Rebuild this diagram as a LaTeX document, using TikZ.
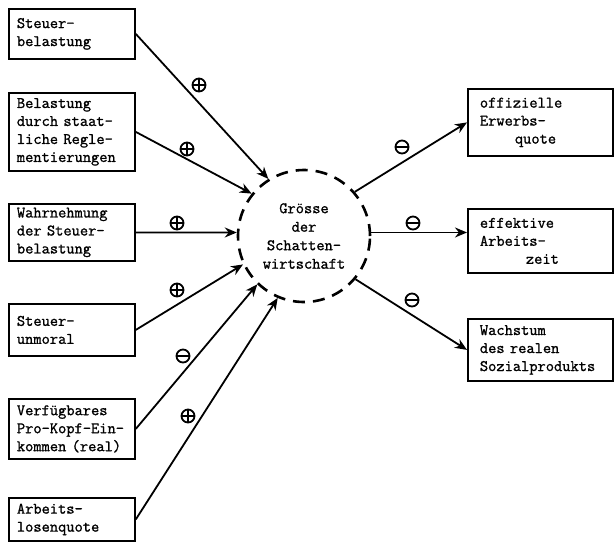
\documentclass[tikz,border=0pt]{standalone}
\usepackage{fontspec}
\newfontfamily\schreib{Latin Modern Mono}[FakeBold=1.2]
\usetikzlibrary{arrows.meta}

\tikzset{
  faktor/.style={draw, line width=1.8pt, anchor=north west, text width=110pt,
    inner xsep=8pt, inner ysep=0pt, align=left, font=\schreib\fontsize{16}{18}\selectfont},
  wirkung/.style={faktor, text width=121pt, inner xsep=12pt},
  schatten/.style={circle, draw, line width=2.6pt, dash pattern=on 12pt off 8pt,
    minimum size=132pt, inner sep=0pt, align=center, font=\schreib\fontsize{16}{18.5}\selectfont},
  pfeil/.style={line width=1.8pt, -{Stealth[length=12pt,width=10pt]}},
  vz/.style={circle, draw, line width=1.8pt, minimum size=13pt, inner sep=0pt},
  vzplus/.style={vz, path picture={
    \draw[line width=1.8pt] (path picture bounding box.west) -- (path picture bounding box.east)
      (path picture bounding box.north) -- (path picture bounding box.south);}},
  vzminus/.style={vz, path picture={
    \draw[line width=1.8pt] (path picture bounding box.west) -- (path picture bounding box.east);}}
}

\begin{document}
\begin{tikzpicture}[x=1pt, y=-1pt]
\useasboundingbox (0,0) rectangle (614,542);

% Einflussgroessen
\node[faktor, minimum height=50pt] (steuer) at (8,8) {Steuer-\\belastung};
\node[faktor, minimum height=78pt] (regel) at (8,92) {Belastung\\durch staat-\\liche Regle-\\mentierungen};
\node[faktor, minimum height=57pt] (wahr) at (8,203) {Wahrnehmung\\der Steuer-\\belastung};
\node[faktor, minimum height=52pt] (moral) at (8,303) {Steuer-\\unmoral};
\node[faktor, minimum height=60pt] (eink) at (8,398) {Verfügbares\\Pro-Kopf-Ein-\\kommen (real)};
\node[faktor, minimum height=43pt] (alq) at (8,497) {Arbeits-\\losenquote};

% Schattenwirtschaft
\node[schatten] (schw) at (304,236) {Grösse\\der\\Schatten-\\wirtschaft};

% Auswirkungen
\node[wirkung, minimum height=67pt] (erwerb) at (467,88) {offizielle\\Erwerbs-\\\hspace*{35pt}quote};
\node[wirkung, minimum height=64pt] (zeit) at (467,208) {effektive\\Arbeits-\\\hspace*{46pt}zeit};
\node[wirkung, minimum height=62pt] (wachs) at (467,318) {Wachstum\\des realen\\Sozialprodukts};

% Pfeile
\draw[pfeil] (steuer.east) -- (schw.122);
\draw[pfeil] (regel.east) -- (schw.141);
\draw[pfeil] (wahr.east) -- (schw.177);
\draw[pfeil] (moral.east) -- (schw.205);
\draw[pfeil] (eink.east) -- (schw.226);
\draw[pfeil] (alq.east) -- (schw.247);
\draw[pfeil] (schw.41) -- (erwerb.west);
\draw[pfeil] (schw.3) -- (schw.3 -| zeit.west);
\draw[pfeil] (schw.320) -- (wachs.west);

% Vorzeichen
\node[vzplus] (v1) at (199,85) {};
\node[vzplus] (v2) at (187,149) {};
\node[vzplus] (v3) at (177,223) {};
\node[vzplus] (v4) at (177,290) {};
\node[vzminus] (v5) at (183,356) {};
\node[vzplus] (v6) at (188,416) {};
\node[vzminus] (v7) at (402,147) {};
\node[vzminus] (v8) at (413,223) {};
\node[vzminus] (v9) at (412,300) {};
\end{tikzpicture}
\end{document}
